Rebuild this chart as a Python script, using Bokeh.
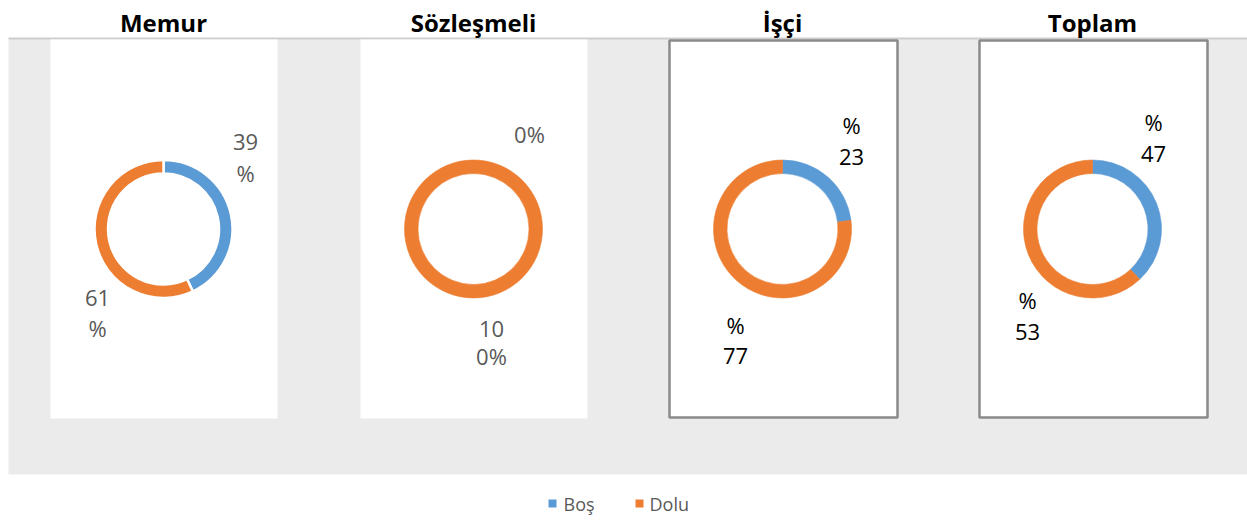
import math
from bokeh.plotting import figure
from bokeh.models import ColumnDataSource, Range1d
from bokeh.core.properties import value
from bokeh.embed import file_html
from bokeh.resources import INLINE

# ---- data ----
categories = ["Memur", "Sözleşmeli", "İşçi", "Toplam"]
series = ["Boş", "Dolu"]
# slice sizes as drawn in the rings
bos = [43, 0, 23, 38]
dolu = [57, 100, 77, 62]
# data label texts as printed (and wrapped) in the original
bos_labels = [["39", "%"], ["0%"], ["%", "23"], ["%", "47"]]
dolu_labels = [["61", "%"], ["10", "0%"], ["%", "77"], ["%", "53"]]

# ---- layout / style ----
colors = {"Boş": "#5B9BD5", "Dolu": "#ED7D31"}
centers_x = [163, 473, 782, 1092]
center_y_img = 228.5
panel_x = [(50, 277), (360, 587), (669, 897), (979, 1207)]
panel_border = [False, False, True, True]
slice_gap = [2.5, 0, 0.01, 0.01]
label_color = ["#595959", "#595959", "#000000", "#000000"]
bos_label_pos = [(245, 141, 31), (529, 133, 0), (851, 124, 32), (1153, 121, 32)]
dolu_label_pos = [(97, 297, 30), (491, 328, 27), (735, 324, 31), (1027, 299, 32)]
R_OUT, R_IN = 69, 55.5

W, H = 1247, 520


def Y(y_img):
    return 520 - y_img


p = figure(width=W, height=H, x_range=Range1d(0, W), y_range=Range1d(Y(H), Y(0)),
           output_backend="svg", toolbar_location=None, min_border=0)
p.axis.visible = False
p.grid.visible = False
p.outline_line_color = None
p.background_fill_color = "white"
p.border_fill_color = "white"

# gray plot-area band
p.quad(left=[8], right=[1260], bottom=[Y(474)], top=[Y(38)], fill_color="#EBEBEB", line_color=None)
p.segment(x0=[8], x1=[1260], y0=[Y(38)], y1=[Y(38)], line_color="#CDCDCD", line_width=2)

# white panels
for (x0, x1), border in zip(panel_x, panel_border):
    if border:
        p.quad(left=[x0], right=[x1], bottom=[Y(417)], top=[Y(40)], fill_color="white",
               line_color="#8A8A8A", line_width=2.5)
    else:
        p.quad(left=[x0], right=[x1], bottom=[Y(418)], top=[Y(39)], fill_color="white", line_color=None)

# donuts
wx, wy, ws, we, wc, wl, wlc = [], [], [], [], [], [], []
for i, cat in enumerate(categories):
    vals = [bos[i], dolu[i]]
    total = float(sum(vals))
    cum = 0.0
    for s, v in zip(series, vals):
        if v > 0:
            a0 = cum / total
            a1 = (cum + v) / total
            wx.append(centers_x[i])
            wy.append(Y(center_y_img))
            ws.append(math.pi / 2 - 2 * math.pi * a1)
            we.append(math.pi / 2 - 2 * math.pi * a0)
            wc.append(colors[s])
            wl.append(slice_gap[i] if slice_gap[i] > 0.1 else 0.6)
            wlc.append("white" if slice_gap[i] > 0.1 else colors[s])
        cum += v
src = ColumnDataSource(dict(x=wx, y=wy, s=ws, e=we, c=wc, lw=wl, lc=wlc))
p.annular_wedge(x="x", y="y", inner_radius=R_IN, outer_radius=R_OUT, start_angle="s", end_angle="e",
                fill_color="c", line_color="lc", line_width="lw", source=src)

# titles
p.text(x=centers_x, y=[Y(22)] * 4, text=categories, text_font=value("Open Sans"),
       text_font_style="bold", text_font_size="24px", text_color="black",
       text_align="center", text_baseline="middle")

# data labels
lx, ly, lt, lc = [], [], [], []
for labs, poss in ((bos_labels, bos_label_pos), (dolu_labels, dolu_label_pos)):
    for i, lines in enumerate(labs):
        x, y0, dy = poss[i]
        for k, t in enumerate(lines):
            lx.append(x)
            ly.append(Y(y0 + k * dy))
            lt.append(t)
            lc.append(label_color[i])
p.text(x=lx, y=ly, text=lt, text_color=lc, text_font=value("Open Sans"), text_font_size="22px",
       text_align="center", text_baseline="middle")

# legend
leg_sq_x = [552, 639]
leg_txt_x = [563, 649]
p.scatter(x=leg_sq_x, y=[Y(503)] * 2, marker="square", size=8, fill_color=[colors[s] for s in series],
          line_color=None)
p.text(x=leg_txt_x, y=[Y(503)] * 2, text=series, text_color="#595959", text_font=value("Open Sans"),
       text_font_size="18px", text_align="left", text_baseline="middle")

open("out.html", "w").write(file_html(p, INLINE))
